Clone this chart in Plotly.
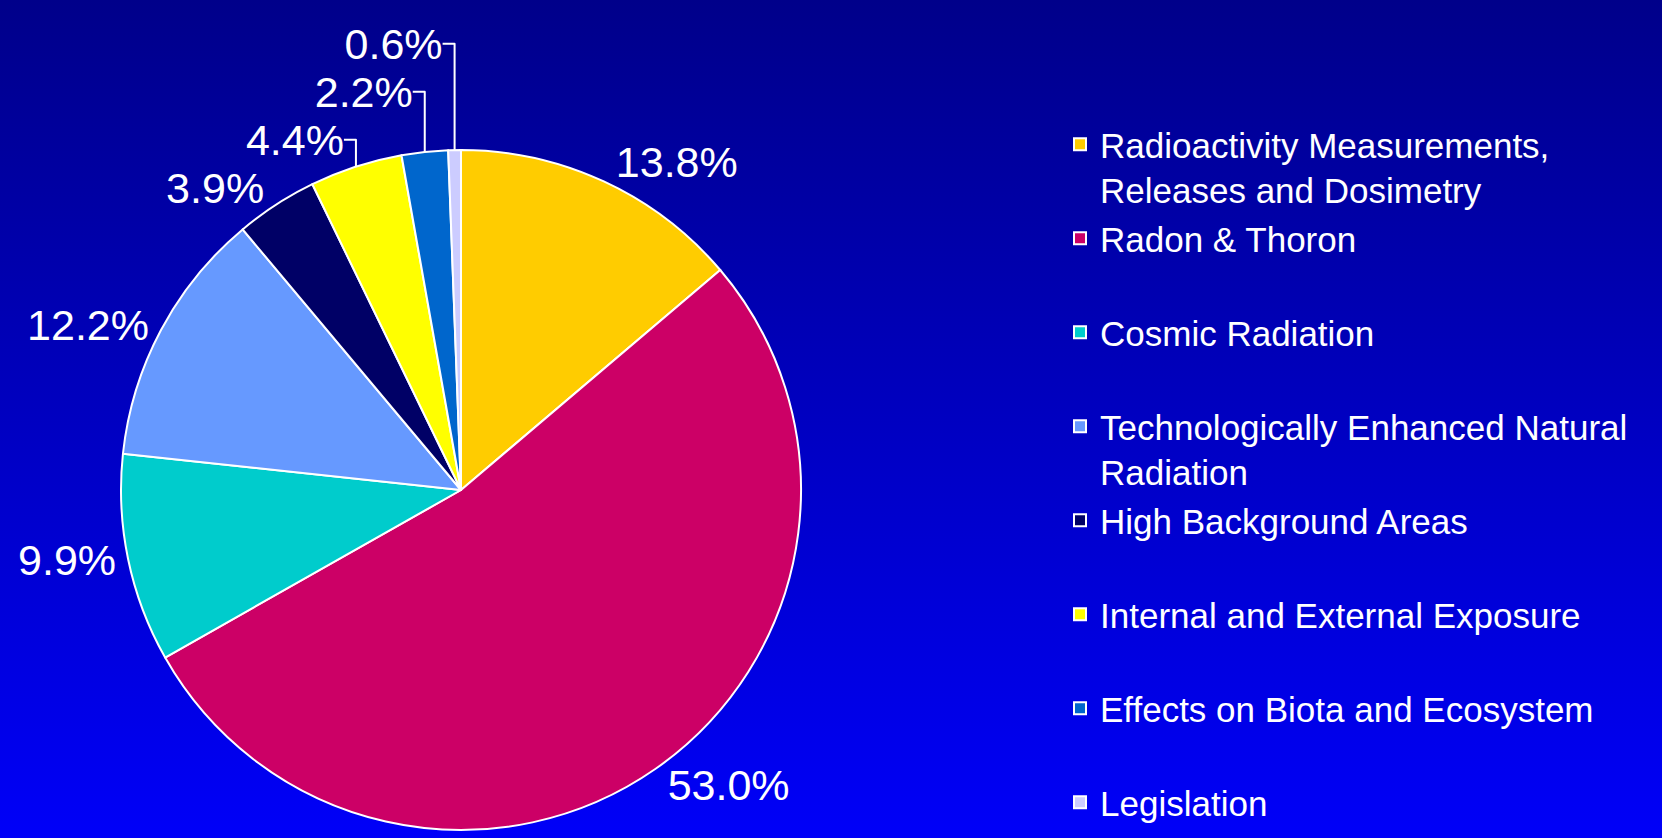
import base64
import plotly.graph_objects as go

categories = [
    "Radioactivity Measurements,<br>Releases and Dosimetry",
    "Radon & Thoron",
    "Cosmic Radiation",
    "Technologically Enhanced Natural<br>Radiation",
    "High Background Areas",
    "Internal and External Exposure",
    "Effects on Biota and Ecosystem",
    "Legislation",
]
values = [13.8, 53.0, 9.9, 12.2, 3.9, 4.4, 2.2, 0.6]
colors = ["#FFCC00", "#CC0066", "#00CCCC", "#6699FF", "#000066", "#FFFF00", "#0066CC", "#CCCCFF"]

# pad one-line legend labels to two lines so every legend slot has equal height
legend_labels = []
for i, c in enumerate(categories):
    if "<br>" not in c and i < len(categories) - 1:
        legend_labels.append(c + "<br>&nbsp;")
    else:
        legend_labels.append(c)

W, H = 1662, 838
cx, cy, r = 461, 490, 340

svg = (
    '<svg xmlns="http://www.w3.org/2000/svg" width="100" height="100" preserveAspectRatio="none">'
    '<defs><linearGradient id="g" x1="0" y1="0" x2="0" y2="1">'
    '<stop offset="0" stop-color="#00008A"/><stop offset="1" stop-color="#0000F8"/>'
    '</linearGradient></defs><rect width="100" height="100" fill="url(#g)"/></svg>'
)
bg_src = "data:image/svg+xml;base64," + base64.b64encode(svg.encode()).decode()

fig = go.Figure(
    go.Pie(
        labels=legend_labels,
        values=values,
        sort=False,
        direction="clockwise",
        rotation=0,
        marker=dict(colors=colors, line=dict(color="white", width=2)),
        textposition="outside",
        texttemplate="%{percent:.1%}",
        textfont=dict(family="Liberation Sans, Arial", size=43, color="white"),
        outsidetextfont=dict(family="Liberation Sans, Arial", size=43, color="white"),
        automargin=False,
        hoverinfo="label+percent",
        domain=dict(
            x=[(cx - r) / W, (cx + r) / W],
            y=[(H - cy - r) / H, (H - cy + r) / H],
        ),
    )
)

fig.update_layout(
    width=W,
    height=H,
    margin=dict(l=0, r=0, t=0, b=0),
    paper_bgcolor="#0000C0",
    plot_bgcolor="rgba(0,0,0,0)",
    images=[dict(source=bg_src, xref="paper", yref="paper", x=0, y=1, sizex=1, sizey=1,
                 sizing="stretch", xanchor="left", yanchor="top", layer="below")],
    showlegend=True,
    legend=dict(
        x=1060 / W, xanchor="left",
        y=1 - 115 / H, yanchor="top",
        font=dict(family="Liberation Sans, Arial", size=35, color="white"),
        bgcolor="rgba(0,0,0,0)",
        valign="top",
        traceorder="normal",
    ),
)

fig.write_html(
    "out.html",
    config={"displayModeBar": False},
    post_script="document.body.style.margin='0';document.body.style.overflow='hidden';",
)
